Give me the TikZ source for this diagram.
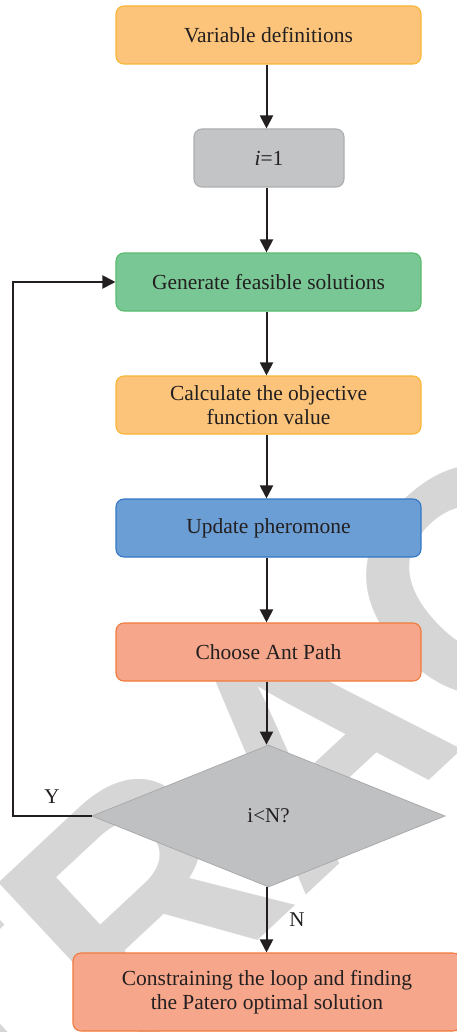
\documentclass[tikz,border=0pt]{standalone}
\usepackage{fontspec}
\setmainfont{Liberation Serif}
\newfontfamily\wmfont{Liberation Sans}
\usetikzlibrary{arrows.meta,shapes.geometric}

\definecolor{txt}{RGB}{35,31,32}
\definecolor{wm}{RGB}{214,214,214}
\definecolor{orfill}{RGB}{251,196,122}
\definecolor{ordraw}{RGB}{247,182,52}
\definecolor{gyfill}{RGB}{195,196,198}
\definecolor{gydraw}{RGB}{172,173,175}
\definecolor{gnfill}{RGB}{121,199,149}
\definecolor{gndraw}{RGB}{88,188,110}
\definecolor{blfill}{RGB}{107,158,212}
\definecolor{bldraw}{RGB}{52,120,195}
\definecolor{safill}{RGB}{246,166,138}
\definecolor{sadraw}{RGB}{240,122,60}
\definecolor{dmfill}{RGB}{191,192,194}
\definecolor{dmdraw}{RGB}{170,170,172}

\tikzset{
  stepbox/.style={rounded corners=8pt, line width=1.1pt, align=center,
    minimum width=305pt, minimum height=58pt, inner sep=0pt,
    text=txt, font=\fontsize{21.5}{24}\selectfont},
  orbox/.style={stepbox, fill=orfill, draw=ordraw},
  gybox/.style={stepbox, fill=gyfill, draw=gydraw},
  gnbox/.style={stepbox, fill=gnfill, draw=gndraw},
  blbox/.style={stepbox, fill=blfill, draw=bldraw},
  sabox/.style={stepbox, fill=safill, draw=sadraw},
  decision/.style={diamond, fill=dmfill, draw=dmdraw, line width=0.8pt,
    minimum width=353pt, minimum height=142pt, inner sep=0pt,
    text=txt, font=\fontsize{21}{24}\selectfont},
  lbl/.style={text=txt, font=\fontsize{21}{24}\selectfont, inner sep=0pt},
  arr/.style={line width=2pt, draw=txt, -{Triangle[length=13pt,width=13pt]}},
}

\begin{document}
\begin{tikzpicture}[x=1pt,y=-1pt]
\useasboundingbox (0,0) rectangle (456,1032);

% background watermark lettering
\begin{scope}
  \clip (0,0) rectangle (456,1032);
  \node[rotate=43, text=wm, inner sep=0pt,
        font=\wmfont\bfseries\fontsize{318}{318}\selectfont] (mark) at (310,742) {RETRACTED};
\end{scope}

% column of the vertical connectors
\coordinate (col) at (266.5,0);
\coordinate (loopx) at (13,0);

% flow steps
\node[orbox] (vars) at (268.5,35) {Variable definitions};
\node[gybox, minimum width=150pt] (init) at (269,158) {\textit{i}=1};
\node[gnbox] (gen) at (268.5,282) {Generate feasible solutions};
\node[orbox] (calc) at (268.5,405) {Calculate the objective\\function value};
\node[blbox] (upd) at (268.5,528) {Update pheromone};
\node[sabox] (path) at (268.5,652) {Choose Ant Path};
\node[decision] (test) at (268.5,816) {i<N?};
\node[sabox, minimum width=388pt, minimum height=78pt] (final) at (267,992)
  {Constraining the loop and finding\\the Patero optimal solution};

% connectors
\draw[arr] (vars.south -| col) -- (init.north -| col);
\draw[arr] (init.south -| col) -- (gen.north -| col);
\draw[arr] (gen.south -| col) -- (calc.north -| col);
\draw[arr] (calc.south -| col) -- (upd.north -| col);
\draw[arr] (upd.south -| col) -- (path.north -| col);
\draw[arr] (path.south -| col) -- (test.north -| col);
\draw[arr] (test.south -| col) -- (final.north -| col);
\draw[arr] (test.west) -- (test.west -| loopx) -- (gen.west -| loopx) -- (gen.west);

% branch labels
\node[lbl] (yes) at (52,797) {Y};
\node[lbl] (no) at (297,920) {N};
\end{tikzpicture}
\end{document}
